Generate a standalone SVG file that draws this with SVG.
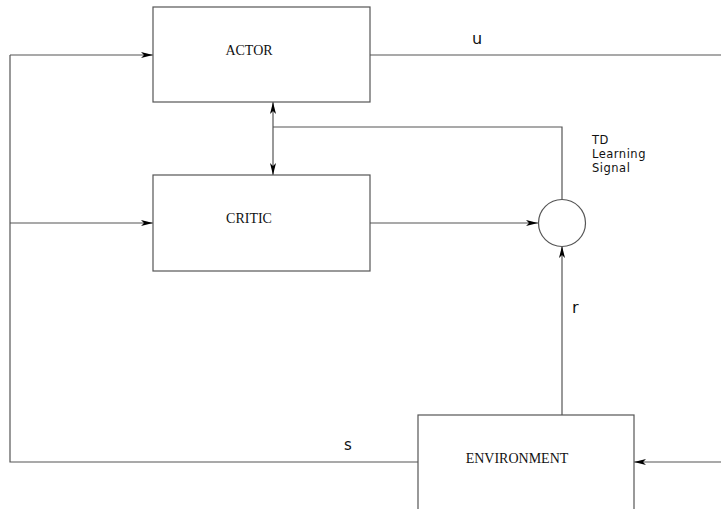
<svg xmlns="http://www.w3.org/2000/svg" width="721" height="509" viewBox="0 0 721 509">
<style>
.box{fill:#fff;stroke:#555;stroke-width:1.2}
.ln{fill:none;stroke:#555;stroke-width:1.2}
.ser{font-family:"Liberation Serif","Times New Roman",serif;font-size:14px;fill:#111;text-anchor:middle}
.san{font-family:"DejaVu Sans","Liberation Sans",sans-serif;fill:#111}
</style>
<defs>
<marker id="ah" viewBox="0 0 12 6" refX="12" refY="3" markerWidth="12" markerHeight="6" markerUnits="userSpaceOnUse" orient="auto-start-reverse">
<path d="M0,0 L12,3 L0,6 L3,3 Z" fill="#000"/>
</marker>
</defs>
<rect width="721" height="509" fill="#fff"/>
<g id="connectors">
<path class="ln" d="M370,55 H721"/>
<path class="ln" d="M10,55 H153" marker-end="url(#ah)"/>
<path class="ln" d="M10,223 H153" marker-end="url(#ah)"/>
<path class="ln" d="M418,462 H10 V55"/>
<path class="ln" d="M273,102 V175" marker-start="url(#ah)" marker-end="url(#ah)"/>
<path class="ln" d="M273,127 H562 V200"/>
<path class="ln" d="M370,223 H538" marker-end="url(#ah)"/>
<path class="ln" d="M562,415 V246" marker-end="url(#ah)"/>
<path class="ln" d="M721,462 H634" marker-end="url(#ah)"/>
<text class="san" x="472" y="44" font-size="16">u</text>
<text class="san" x="572" y="313" font-size="16">r</text>
<text class="san" x="344" y="450" font-size="15">s</text>
<text class="san" font-size="11.5" letter-spacing="0.5"><tspan x="592" y="144">TD</tspan><tspan x="592" y="158">Learning</tspan><tspan x="592" y="172">Signal</tspan></text>
</g>
<g id="actor">
<rect class="box" x="153" y="7" width="217" height="95"/>
<text class="ser" x="249" y="55">ACTOR</text>
</g>
<g id="critic">
<rect class="box" x="153" y="175" width="217" height="96"/>
<text class="ser" x="249" y="223">CRITIC</text>
</g>
<g id="sum">
<circle class="box" cx="562" cy="223" r="23.5"/>
</g>
<g id="environment">
<rect class="box" x="418" y="415" width="216" height="110"/>
<text class="ser" x="517" y="463">ENVIRONMENT</text>
</g>
</svg>
